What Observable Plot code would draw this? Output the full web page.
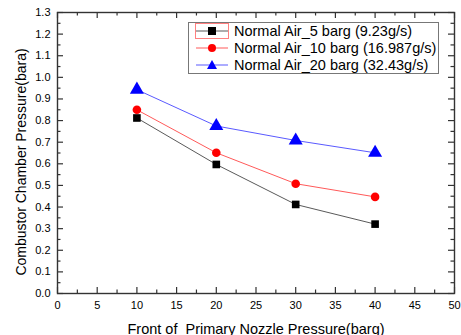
<!DOCTYPE html>
<html><head><meta charset="utf-8">
<script src="https://cdn.jsdelivr.net/npm/d3@7"></script>
<script src="https://cdn.jsdelivr.net/npm/@observablehq/plot@0.6"></script>
<style>
body{margin:0;background:#fff;font-family:"Liberation Sans",Arial,sans-serif}
#wrap{position:relative;width:461px;height:335px;overflow:hidden}
#wrap svg text{white-space:pre}
#legend{position:absolute;left:188px;top:22px;width:251px;height:52px;border:1px solid #777;background:#fff;box-sizing:border-box;font-size:14.5px;color:#000}
.row{position:absolute;left:0;height:17px;line-height:17px;white-space:pre}
.row svg{position:absolute;left:6px;top:2px}
.row span{position:absolute;left:45px;top:0}
</style></head>
<body><div id="wrap"></div>
<script>
const pressures = [10, 20, 30, 40];
const air5 = [0.812, 0.597, 0.412, 0.321];
const air10 = [0.850, 0.651, 0.508, 0.447];
const air20 = [0.943, 0.775, 0.708, 0.651];
const seriesNames = ["Normal Air_5 barg (9.23g/s)", "Normal Air_10 barg (16.987g/s)", "Normal Air_20 barg (32.43g/s)"];
const seriesColors = ["#000000", "#ff0000", "#0000ff"];
const seriesSymbols = ["square", "circle", "triangle"];
const xMajor = [0, 5, 10, 15, 20, 25, 30, 35, 40, 45, 50];
const xMinor = [2.5, 7.5, 12.5, 17.5, 22.5, 27.5, 32.5, 37.5, 42.5, 47.5];
const yMajor = [0, 0.1, 0.2, 0.3, 0.4, 0.5, 0.6, 0.7, 0.8, 0.9, 1.0, 1.1, 1.2, 1.3];
const yMinor = [0.05, 0.15, 0.25, 0.35, 0.45, 0.55, 0.65, 0.75, 0.85, 0.95, 1.05, 1.15, 1.25];
const xTitle = "Front of  Primary Nozzle Pressure(barg)";
const yTitle = "Combustor Chamber Pressure(bara)";

const allSeries = [air5, air10, air20];
const rows = [];
allSeries.forEach((vals, si) => vals.forEach((v, i) => rows.push({x: pressures[i], y: v, s: seriesNames[si], si})));

const W = 461, H = 335, mL = 57, mR = 7, mT = 12, mB = 42;
const pw = W - mL - mR, ph = H - mT - mB;
const tc = "#333";
const marks = [];
// inward ticks on all four sides
marks.push(Plot.ruleX(xMajor, {x: d => d, insetTop: ph - 6, stroke: tc, strokeWidth: 1.2}));
marks.push(Plot.ruleX(xMajor, {x: d => d, insetBottom: ph - 6, stroke: tc, strokeWidth: 1.2}));
marks.push(Plot.ruleX(xMinor, {x: d => d, insetTop: ph - 3.5, stroke: tc, strokeWidth: 1.2}));
marks.push(Plot.ruleX(xMinor, {x: d => d, insetBottom: ph - 3.5, stroke: tc, strokeWidth: 1.2}));
marks.push(Plot.ruleY(yMajor, {y: d => d, insetRight: pw - 6, stroke: tc, strokeWidth: 1.2}));
marks.push(Plot.ruleY(yMajor, {y: d => d, insetLeft: pw - 6, stroke: tc, strokeWidth: 1.2}));
marks.push(Plot.ruleY(yMinor, {y: d => d, insetRight: pw - 3.5, stroke: tc, strokeWidth: 1.2}));
marks.push(Plot.ruleY(yMinor, {y: d => d, insetLeft: pw - 3.5, stroke: tc, strokeWidth: 1.2}));
marks.push(Plot.frame({stroke: tc, strokeWidth: 1.4}));
marks.push(Plot.axisX({ticks: xMajor, tickSize: 0, tickPadding: 8, tickFormat: d => String(d), label: null, fontSize: 11, fill: "#000"}));
marks.push(Plot.axisY({ticks: yMajor, tickSize: 0, tickPadding: 7, tickFormat: d3.format(".1f"), label: null, fontSize: 11, fill: "#000"}));
marks.push(Plot.text([xTitle], {frameAnchor: "bottom", lineAnchor: "bottom", textAnchor: "middle", dy: 40, text: d => d, fontSize: 14.5, fill: "#000"}));
marks.push(Plot.text([yTitle], {frameAnchor: "left", rotate: -90, textAnchor: "middle", lineAnchor: "middle", dx: -36, dy: 9, text: d => d, fontSize: 14, fill: "#000"}));
allSeries.forEach((vals, si) => {
  const data = rows.filter(r => r.si === si);
  marks.push(Plot.line(data, {x: "x", y: "y", stroke: seriesColors[si], strokeWidth: 1, strokeOpacity: 0.65}));
});
allSeries.forEach((vals, si) => {
  const data = rows.filter(r => r.si === si);
  marks.push(Plot.dot(data, {x: "x", y: "y", symbol: () => seriesSymbols[si], fill: seriesColors[si], stroke: "none", r: si === 2 ? 5.2 : 4.3}));
});

const chart = Plot.plot({
  width: W, height: H,
  marginLeft: mL, marginRight: mR, marginTop: mT, marginBottom: mB,
  x: {domain: [0, 50], axis: null},
  y: {domain: [0, 1.3], axis: null},
  style: {fontFamily: '"Liberation Sans", Arial, sans-serif', background: "#fff", color: "#000"},
  marks
});
const wrap = document.getElementById("wrap");
wrap.appendChild(chart);

// legend
const leg = document.createElement("div");
leg.id = "legend";
const rowTops = [0, 17, 34];
seriesNames.forEach((name, i) => {
  const r = document.createElement("div");
  r.className = "row";
  r.style.top = rowTops[i] + "px";
  r.style.width = "249px";
  const c = seriesColors[i];
  let sym;
  if (i === 0) sym = `<rect x="13" y="2" width="8" height="8" fill="${c}"/>`;
  else if (i === 1) sym = `<circle cx="17" cy="6" r="4" fill="${c}"/>`;
  else sym = `<path d="M17,1 L22,10 L12,10 Z" fill="${c}"/>`;
  const box = i === 0 ? `<rect x="0.5" y="-1.5" width="33" height="15" fill="none" stroke="#ff8080" stroke-width="1"/>` : "";
  r.innerHTML = `<svg width="35" height="14" style="overflow:visible">${box}<line x1="1" y1="6" x2="33" y2="6" stroke="${c}" stroke-opacity="0.65" stroke-width="1"/>${sym}</svg><span>${name}</span>`;
  leg.appendChild(r);
});
wrap.appendChild(leg);
</script>
</body></html>
